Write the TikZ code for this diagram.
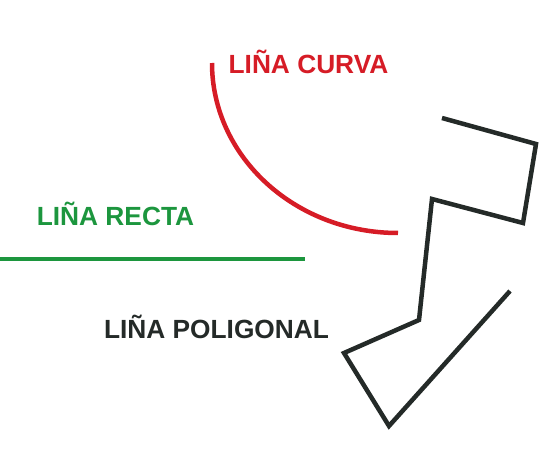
\documentclass[tikz,border=0pt]{standalone}
\usepackage{fontspec}
\setmainfont{Liberation Sans}
\usepackage{tikz}
\usetikzlibrary{positioning, calc}
\definecolor{curvared}{RGB}{214,28,38}
\definecolor{rectgreen}{RGB}{28,150,62}
\definecolor{polydark}{RGB}{36,42,40}

\begin{document}
\begin{tikzpicture}[x=1pt, y=-1pt,
    label/.style={font=\fontsize{26.3}{30}\selectfont\bfseries, inner sep=0pt, anchor=center},
    stroke/.style={line width=4.5pt, line cap=butt, line join=miter}]

    \useasboundingbox (0,0) rectangle (546,457);

    % Curved line with its label
    \node[label, text=curvared] (curva) at (308.5,61.5) {LIÑA CURVA};
    \draw[stroke, curvared] (212,63) arc[start angle=180, end angle=90, x radius=186, y radius=170];

    % Straight line with its label
    \node[label, text=rectgreen] (recta) at (115.5,214) {LIÑA RECTA};
    \draw[stroke, rectgreen] (0,259) -- (305,259);

    % Polygonal line with its label
    \node[label, text=polydark] (poligonal) at (216.5,327) {LIÑA POLIGONAL};
    \draw[stroke, polydark] (442,118) -- (536,144) -- (523,223) -- (432,199)
        -- (419,320) -- (344,353) -- (389,426) -- (510,291);

\end{tikzpicture}
\end{document}
